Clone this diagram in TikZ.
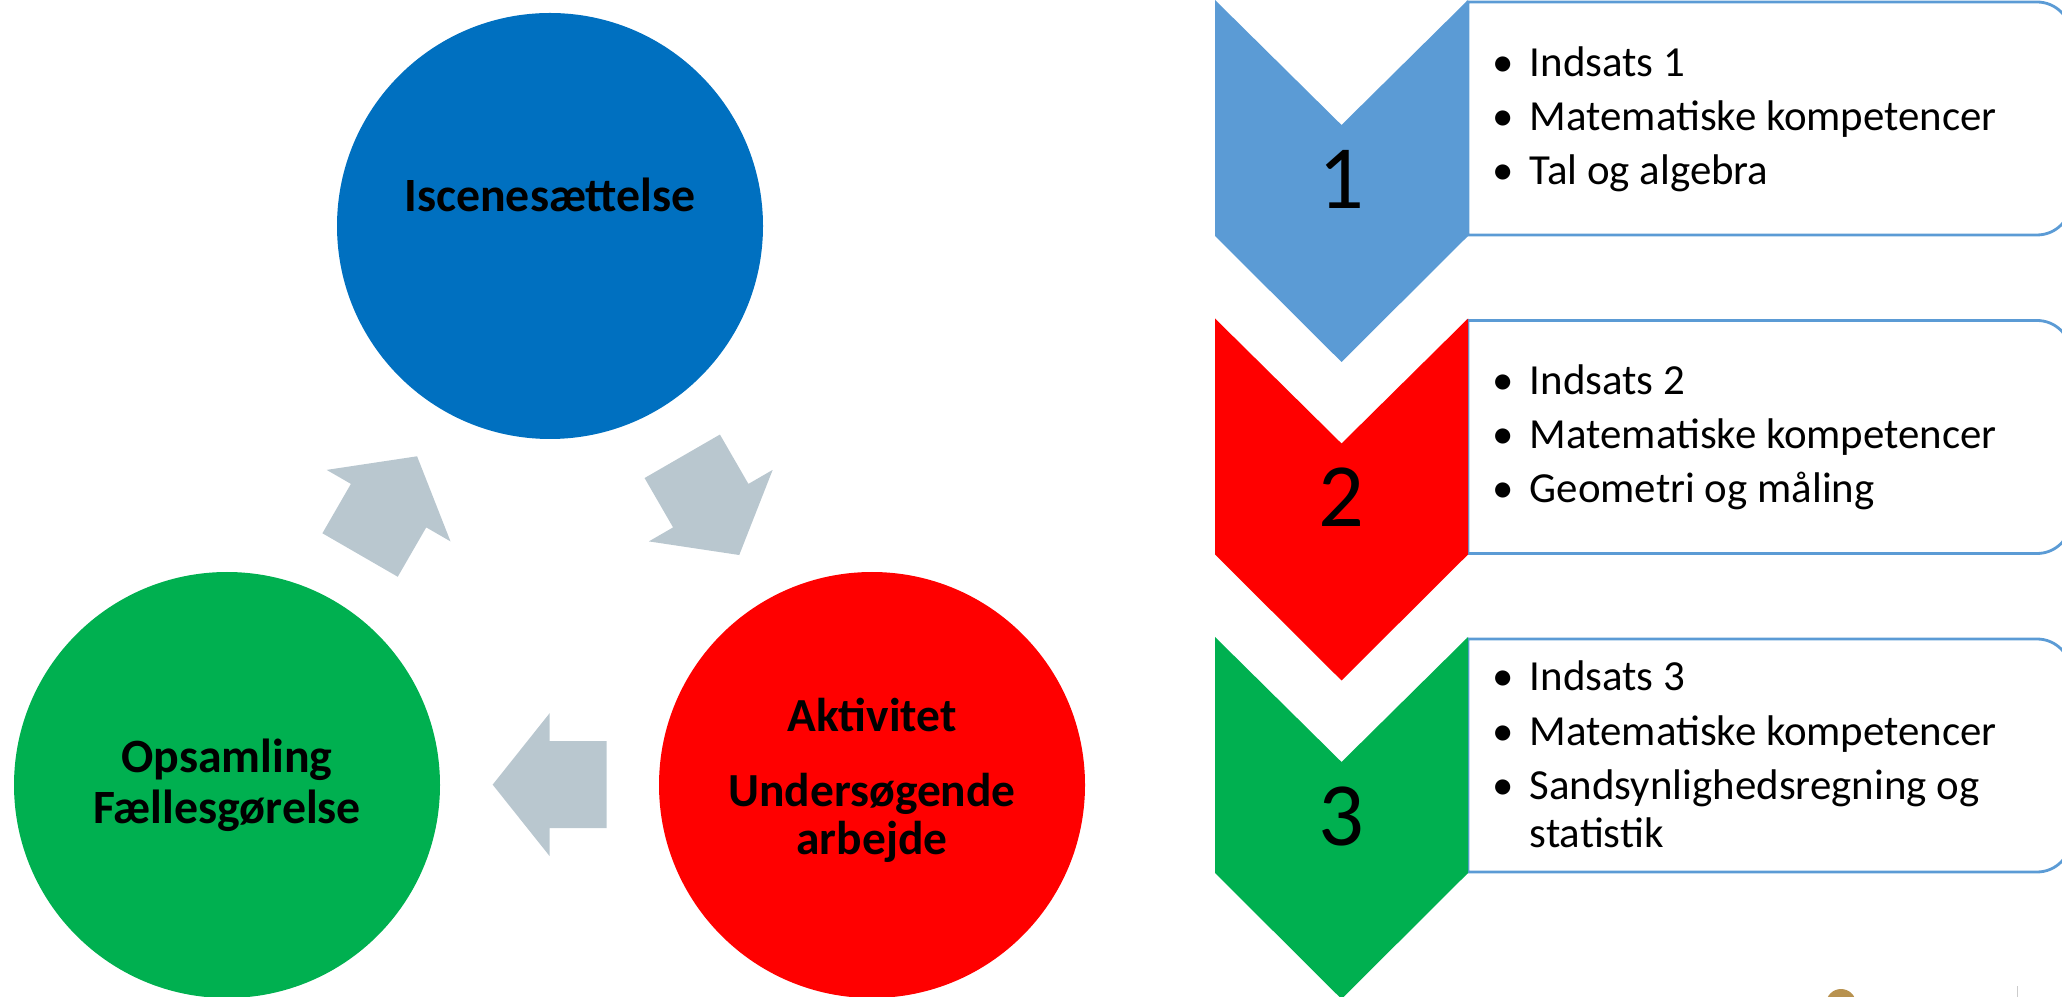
\documentclass[tikz,border=0pt]{standalone}
\usepackage{fontspec}
\setmainfont{Carlito}
\usepackage{xcolor}

\definecolor{sceneblue}{HTML}{0070C0}
\definecolor{actred}{HTML}{FF0000}
\definecolor{wrapgreen}{HTML}{00B050}
\definecolor{cyclegrey}{HTML}{B9C7CF}
\definecolor{listblue}{HTML}{5B9BD5}
\definecolor{dotgold}{HTML}{B8924F}

\begin{document}
\begin{tikzpicture}[
    phase/.style={circle, minimum size=4.26cm, inner sep=0pt},
    phasetext/.style={align=center, inner sep=0pt, anchor=base, font=\bfseries\fontsize{13.6}{14.5}\selectfont},
    chevnum/.style={inner sep=0pt, font=\fontsize{25.7}{26}\selectfont},
    listbox/.style={draw=listblue, line width=0.8pt},
    listtext/.style={align=left, inner sep=0pt, anchor=base west, font=\fontsize{12.2}{15.5}\selectfont}
]
    \useasboundingbox (0,0) rectangle (20.62,-9.97);

    % Cycle
    \node[phase, fill=sceneblue] (scene) at (5.50,-2.26) {};
    \node[phase, fill=actred] (act) at (8.72,-7.85) {};
    \node[phase, fill=wrapgreen] (wrap) at (2.27,-7.85) {};

    % texts sit on the baseline of their last line
    \node[phasetext] (scenetext) at ([yshift=0.14cm]scene.center) {Iscenesættelse};
    \node[phasetext, font=\bfseries\fontsize{13.5}{13.6}\selectfont] (acttext) at ([yshift=-0.69cm]act.center)
        {Aktivitet\\[7.7pt]Undersøgende\\arbejde};
    \node[phasetext] (wraptext) at ([yshift=-0.38cm]wrap.center) {Opsamling\\Fællesgørelse};

    % Block arrows between the circles
    \coordinate (hub) at (barycentric cs:scene=1,act=1,wrap=1);
    \foreach \a in {150,30,270}{
        \fill[cyclegrey, shift={(hub)}, rotate=\a] (1.425,0.57) -- (2.295,0.57) -- (2.295,0) -- (2.575,0)
            -- (1.86,-0.57) -- (1.145,0) -- (1.425,0) -- cycle;
    }

    % Chevron list
    \foreach \i/\col in {1/listblue,2/actred,3/wrapgreen}{
        \pgfmathsetmacro{\ytop}{-(\i-1)*3.185}
        \draw[listbox] (14.68,\ytop-0.02) [rounded corners=3.4mm] -- (20.71,\ytop-0.02) -- (20.71,\ytop-2.35)
            [sharp corners] -- (14.68,\ytop-2.35) -- cycle;
        \fill[\col] (12.15,\ytop) -- (13.415,\ytop-1.25) -- (14.68,\ytop) -- (14.68,\ytop-2.36)
            -- (13.415,\ytop-3.62) -- (12.15,\ytop-2.36) -- cycle;
        \node[chevnum] (num\i) at (13.415,\ytop-1.79) {\i};
    }

    \node[listtext] (items1) at (14.75,-1.85)
        {\makebox[0.54cm]{\textbullet}Indsats 1\\\makebox[0.54cm]{\textbullet}Matematiske kompetencer\\\makebox[0.54cm]{\textbullet}Tal og algebra};
    \node[listtext] (items2) at (14.75,-5.03)
        {\makebox[0.54cm]{\textbullet}Indsats 2\\\makebox[0.54cm]{\textbullet}Matematiske kompetencer\\\makebox[0.54cm]{\textbullet}Geometri og måling};
    \node[listtext] (items3) at (14.75,-8.47)
        {\makebox[0.54cm]{\textbullet}Indsats 3\\\makebox[0.54cm]{\textbullet}Matematiske kompetencer\\\makebox[0.54cm]{\textbullet}Sandsynlighedsregning og\\[-2.1pt]\makebox[0.54cm]{}statistik};

    % bits at the lower edge
    \fill[dotgold] (18.41,-10.04) circle (0.15);
    \draw[gray!40, line width=0.3pt] (20.17,-9.86) -- (20.17,-9.97);
\end{tikzpicture}
\end{document}
